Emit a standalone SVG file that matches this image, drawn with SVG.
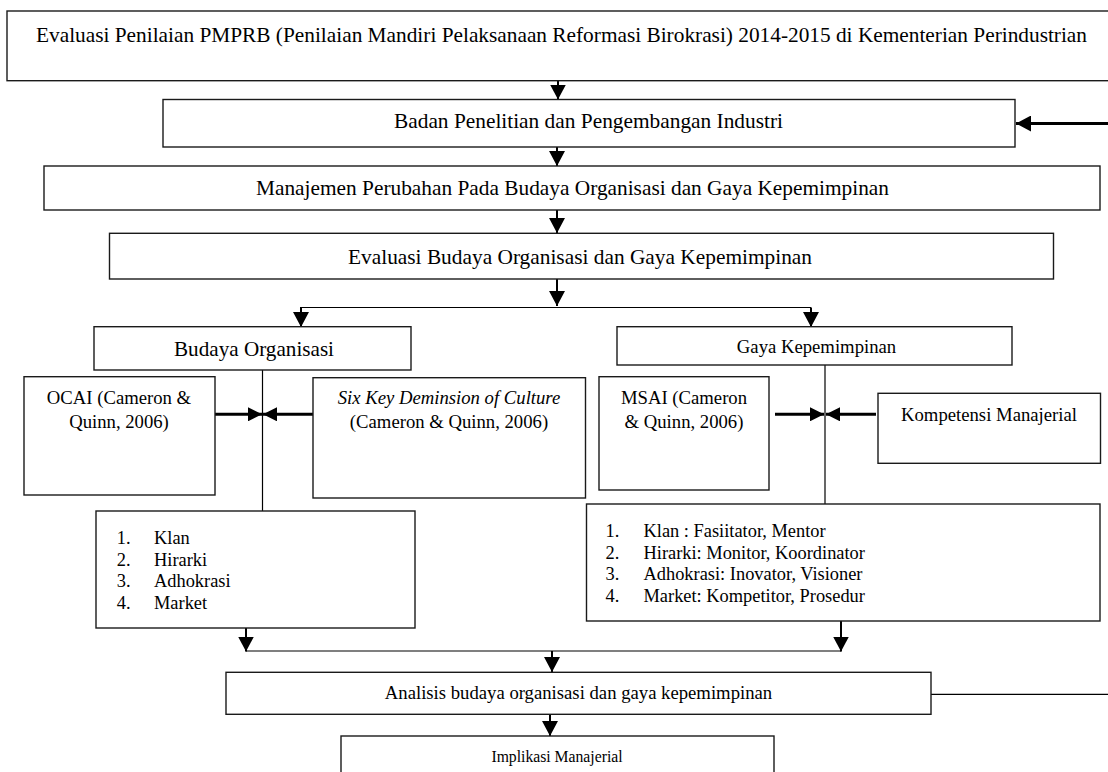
<svg xmlns="http://www.w3.org/2000/svg" width="1108" height="772" viewBox="0 0 1108 772">
<style>
.box{fill:#fff;stroke:#1a1a1a;stroke-width:1.4}
text{font-family:"Liberation Serif","Times New Roman",serif;fill:#000}
.t21{font-size:21px}
.t19{font-size:18.7px}
.t18{font-size:18.4px}
.c{text-anchor:middle}
.ln{fill:none;stroke:#000;stroke-width:2}
.thin{fill:none;stroke:#000;stroke-width:1.2}
.thick{fill:none;stroke:#000;stroke-width:3}
</style>
<defs>
<marker id="ah" viewBox="0 0 15 16" refX="15" refY="8" markerWidth="15" markerHeight="16" markerUnits="userSpaceOnUse" orient="auto">
<path d="M0,0 L15,8 L0,16 z" fill="#000"/>
</marker>
<marker id="ahs" viewBox="0 0 14 14" refX="14" refY="7" markerWidth="14" markerHeight="14" markerUnits="userSpaceOnUse" orient="auto">
<path d="M0,0 L14,7 L0,14 z" fill="#000"/>
</marker>
</defs>

<g id="connectors">
<line class="ln" x1="558" y1="80.7" x2="558" y2="99.5" marker-end="url(#ah)"/>
<line class="thick" x1="1108" y1="123.5" x2="1016" y2="123.5" marker-end="url(#ah)"/>
<line class="ln" x1="557" y1="147" x2="557" y2="166" marker-end="url(#ah)"/>
<line class="ln" x1="557" y1="210" x2="557" y2="233" marker-end="url(#ah)"/>
<line class="ln" x1="557" y1="279" x2="557" y2="306" marker-end="url(#ah)"/>
<line class="thin" x1="300" y1="307.5" x2="811" y2="307.5"/>
<line class="ln" x1="301" y1="307.5" x2="301" y2="327" marker-end="url(#ah)"/>
<line class="ln" x1="811" y1="307.5" x2="811" y2="327" marker-end="url(#ah)"/>
<line class="thin" x1="262.5" y1="370" x2="262.5" y2="511"/>
<line class="thick" x1="215" y1="414.3" x2="262" y2="414.3" marker-end="url(#ahs)"/>
<line class="thick" x1="313" y1="414.3" x2="263" y2="414.3" marker-end="url(#ahs)"/>
<line class="thin" x1="825" y1="365" x2="825" y2="504"/>
<line class="thick" x1="775" y1="414.3" x2="824" y2="414.3" marker-end="url(#ahs)"/>
<line class="thick" x1="876" y1="414.3" x2="826" y2="414.3" marker-end="url(#ahs)"/>
<line class="ln" x1="246" y1="628" x2="246" y2="651.5" marker-end="url(#ah)"/>
<line class="ln" x1="841" y1="621" x2="841" y2="651.5" marker-end="url(#ah)"/>
<line class="thin" x1="246" y1="651" x2="841" y2="651"/>
<line class="ln" x1="552" y1="651" x2="552" y2="672" marker-end="url(#ah)"/>
<line class="thin" x1="931" y1="694.3" x2="1108" y2="694.3"/>
<line class="ln" x1="550" y1="714" x2="550" y2="736" marker-end="url(#ah)"/>
</g>

<g id="n-evaluasi-pmprb">
<rect class="box" x="7" y="11" width="1110" height="69.7"/>
<text class="t21" x="36" y="41.5" textLength="1051" lengthAdjust="spacingAndGlyphs">Evaluasi Penilaian PMPRB (Penilaian Mandiri Pelaksanaan Reformasi Birokrasi) 2014-2015 di Kementerian Perindustrian</text>
</g>

<g id="n-badan">
<rect class="box" x="163" y="99.5" width="852" height="47.5"/>
<text class="t21" x="394" y="128" textLength="389" lengthAdjust="spacingAndGlyphs">Badan Penelitian dan Pengembangan Industri</text>
</g>

<g id="n-manajemen">
<rect class="box" x="44" y="166" width="1056" height="44"/>
<text class="t21" x="256" y="195" textLength="633" lengthAdjust="spacingAndGlyphs">Manajemen Perubahan Pada Budaya Organisasi dan Gaya Kepemimpinan</text>
</g>

<g id="n-evaluasi-budaya">
<rect class="box" x="109.5" y="233.3" width="944" height="45.7"/>
<text class="t21" x="348" y="263.5" textLength="464" lengthAdjust="spacingAndGlyphs">Evaluasi Budaya Organisasi dan Gaya Kepemimpinan</text>
</g>

<g id="n-budaya">
<rect class="box" x="94" y="326.7" width="317" height="43.3"/>
<text class="t21" x="174" y="356" textLength="160" lengthAdjust="spacingAndGlyphs">Budaya Organisasi</text>
</g>

<g id="n-gaya">
<rect class="box" x="617" y="326.7" width="395" height="38.3"/>
<text class="t19 c" x="816.5" y="353">Gaya Kepemimpinan</text>
</g>

<g id="n-ocai">
<rect class="box" x="24" y="376.7" width="191" height="118.3"/>
<text class="t19 c" x="119" y="404">OCAI (Cameron &amp;</text>
<text class="t19 c" x="119" y="428">Quinn, 2006)</text>
</g>

<g id="n-sixkey">
<rect class="box" x="313" y="377.7" width="272.5" height="120.3"/>
<text class="t19 c" x="449" y="404" font-style="italic">Six Key Deminsion of Culture</text>
<text class="t19 c" x="449" y="428">(Cameron &amp; Quinn, 2006)</text>
</g>

<g id="n-msai">
<rect class="box" x="599" y="376.7" width="170" height="113.3"/>
<text class="t19 c" x="684" y="404">MSAI (Cameron</text>
<text class="t19 c" x="684" y="428">&amp; Quinn, 2006)</text>
</g>

<g id="n-kompetensi">
<rect class="box" x="878" y="393.3" width="222.5" height="70"/>
<text class="t19 c" x="989" y="421">Kompetensi Manajerial</text>
</g>

<g id="n-list-budaya">
<rect class="box" x="96" y="511" width="319" height="117"/>
<text class="t18" x="116.7" y="544">1.</text><text class="t18" x="154" y="544">Klan</text>
<text class="t18" x="116.7" y="565.7">2.</text><text class="t18" x="154" y="565.7">Hirarki</text>
<text class="t18" x="116.7" y="587.3">3.</text><text class="t18" x="154" y="587.3">Adhokrasi</text>
<text class="t18" x="116.7" y="609">4.</text><text class="t18" x="154" y="609">Market</text>
</g>

<g id="n-list-gaya">
<rect class="box" x="586.5" y="504" width="513.5" height="117"/>
<text class="t18" x="605.6" y="537">1.</text><text class="t18" x="643.5" y="537">Klan : Fasiitator, Mentor</text>
<text class="t18" x="605.6" y="558.5">2.</text><text class="t18" x="643.5" y="558.5">Hirarki: Monitor, Koordinator</text>
<text class="t18" x="605.6" y="580">3.</text><text class="t18" x="643.5" y="580">Adhokrasi: Inovator, Visioner</text>
<text class="t18" x="605.6" y="601.5">4.</text><text class="t18" x="643.5" y="601.5">Market: Kompetitor, Prosedur</text>
</g>

<g id="n-analisis">
<rect class="box" x="226" y="672.3" width="705" height="42"/>
<text class="t19 c" x="578.5" y="698.5">Analisis budaya organisasi dan gaya kepemimpinan</text>
</g>

<g id="n-implikasi">
<rect class="box" x="341" y="736" width="433" height="60"/>
<text class="c" font-size="15.7px" x="557" y="761.5">Implikasi Manajerial</text>
</g>
</svg>
